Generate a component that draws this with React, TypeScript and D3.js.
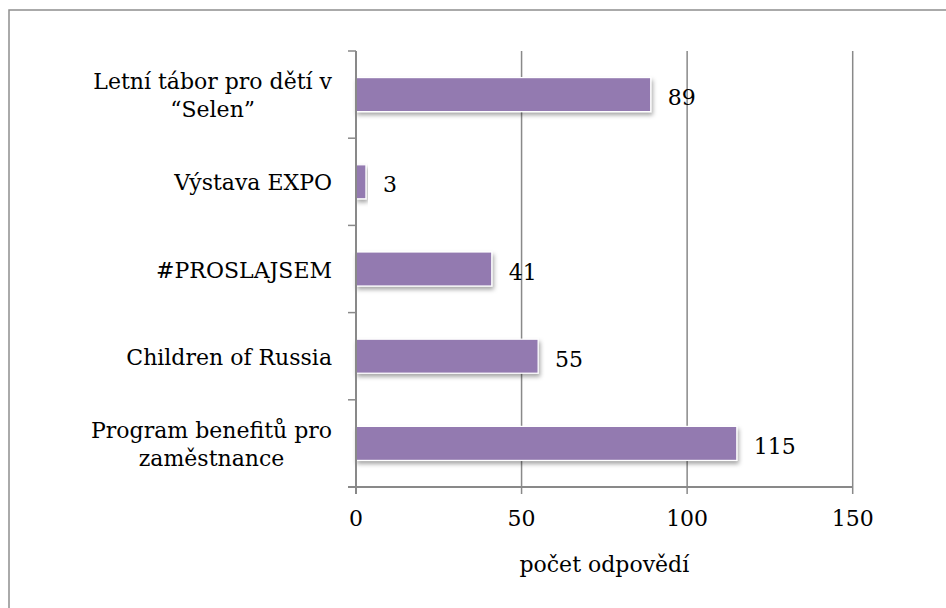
import React, { useRef, useEffect } from 'react';
import * as d3 from 'd3';

// kategorie (shora dolů), řádky popisků, hodnoty
const categories = ['Letní tábor', 'Výstava EXPO', '#PROSLAJSEM', 'Children of Russia', 'Program benefitů'];
const categoryLines = [
  ['Letní tábor pro dětí v', '“Selen”'],
  ['Výstava EXPO'],
  ['#PROSLAJSEM'],
  ['Children of Russia'],
  ['Program benefitů pro', 'zaměstnance'],
];
const values = [89, 3, 41, 55, 115];
const xTicks = [0, 50, 100, 150];
const xTitle = 'počet odpovědí';

const W = 946;
const H = 608;
const FONT = '"DejaVu Serif", "Liberation Serif", serif';

const App = () => {
  const svgRef = useRef<SVGSVGElement | null>(null);

  useEffect(() => {
    const svg = d3.select(svgRef.current);
    svg.selectAll('*').remove();

    const left = 356, right = 852.7, top = 51, bottom = 487;
    const labelRight = 332;
    const grey = '#898989';

    const x = d3.scaleLinear().domain([0, 150]).range([left, right]);
    const y = d3.scaleBand<string>()
      .domain(categories)
      .range([top, bottom])
      .paddingInner(0.61)
      .paddingOuter(0.305);

    // stín pod sloupci
    const defs = svg.append('defs');
    const f = defs.append('filter').attr('id', 'shadow')
      .attr('x', '-10%').attr('y', '-30%').attr('width', '130%').attr('height', '180%');
    f.append('feDropShadow')
      .attr('dx', 1.5).attr('dy', 3).attr('stdDeviation', 2)
      .attr('flood-color', '#000').attr('flood-opacity', 0.35);

    // rámeček
    svg.append('rect')
      .attr('x', 9).attr('y', 10)
      .attr('width', W + 20).attr('height', H + 20)
      .attr('fill', 'none').attr('stroke', '#8e8e8e').attr('stroke-width', 1.5);

    // mřížka
    svg.append('g').selectAll('line')
      .data(xTicks.slice(1))
      .join('line')
      .attr('x1', d => x(d)).attr('x2', d => x(d))
      .attr('y1', top).attr('y2', bottom)
      .attr('stroke', grey).attr('stroke-width', 1.5);

    // sloupce
    svg.append('g').selectAll('rect')
      .data(values)
      .join('rect')
      .attr('x', x(0))
      .attr('y', (d, i) => y(categories[i])!)
      .attr('width', d => x(d) - x(0))
      .attr('height', y.bandwidth())
      .attr('fill', '#937ab0')
      .attr('stroke', '#ffffff')
      .attr('stroke-width', 1.2)
      .attr('filter', 'url(#shadow)');

    // osa y
    const yBounds = d3.range(categories.length + 1).map(i => top + i * y.step() - y.step() * 0.0);
    svg.append('line')
      .attr('x1', left).attr('x2', left).attr('y1', top).attr('y2', bottom + 7)
      .attr('stroke', grey).attr('stroke-width', 2);
    svg.append('g').selectAll('line')
      .data(yBounds)
      .join('line')
      .attr('x1', left - 8).attr('x2', left)
      .attr('y1', d => d).attr('y2', d => d)
      .attr('stroke', grey).attr('stroke-width', 1.5);

    // osa x
    svg.append('line')
      .attr('x1', left - 8).attr('x2', right).attr('y1', bottom).attr('y2', bottom)
      .attr('stroke', grey).attr('stroke-width', 2);
    svg.append('g').selectAll('line')
      .data(xTicks)
      .join('line')
      .attr('x1', d => x(d)).attr('x2', d => x(d))
      .attr('y1', bottom).attr('y2', bottom + 7)
      .attr('stroke', grey).attr('stroke-width', 1.5);

    svg.append('g').selectAll('text')
      .data(xTicks)
      .join('text')
      .attr('x', d => x(d))
      .attr('y', bottom + 31)
      .attr('text-anchor', 'middle')
      .attr('dominant-baseline', 'central')
      .style('font-family', FONT).style('font-size', '22px').attr('fill', '#000')
      .text(d => d);

    svg.append('text')
      .attr('x', (left + right) / 2)
      .attr('y', 572)
      .attr('text-anchor', 'middle')
      .style('font-family', FONT).style('font-size', '22px').attr('fill', '#000')
      .text(xTitle);

    // hodnoty
    svg.append('g').selectAll('text')
      .data(values)
      .join('text')
      .attr('x', d => x(d) + 17)
      .attr('y', (d, i) => y(categories[i])! + y.bandwidth() / 2 + 3)
      .attr('dominant-baseline', 'central')
      .style('font-family', FONT).style('font-size', '22px').attr('fill', '#000')
      .text(d => d);

    // popisky kategorií
    const lineH = 28;
    categories.forEach((c, i) => {
      const lines = categoryLines[i];
      const cy = y(c)! + y.bandwidth() / 2 + 1;
      const g = svg.append('g');
      const texts = g.selectAll('text')
        .data(lines)
        .join('text')
        .attr('y', (d, j) => cy + (j - (lines.length - 1) / 2) * lineH)
        .attr('text-anchor', 'middle')
        .attr('dominant-baseline', 'central')
        .style('font-family', FONT).style('font-size', '22px').attr('fill', '#000')
        .text(d => d);
      let maxW = 0;
      texts.each(function () {
        maxW = Math.max(maxW, (this as SVGTextElement).getComputedTextLength());
      });
      texts.attr('x', labelRight - maxW / 2);
    });
  }, []);

  return (
    <svg ref={svgRef} width={W} height={H}
      style={{ position: 'absolute', left: 0, top: 0, background: '#fff' }} />
  );
};

export default App;
